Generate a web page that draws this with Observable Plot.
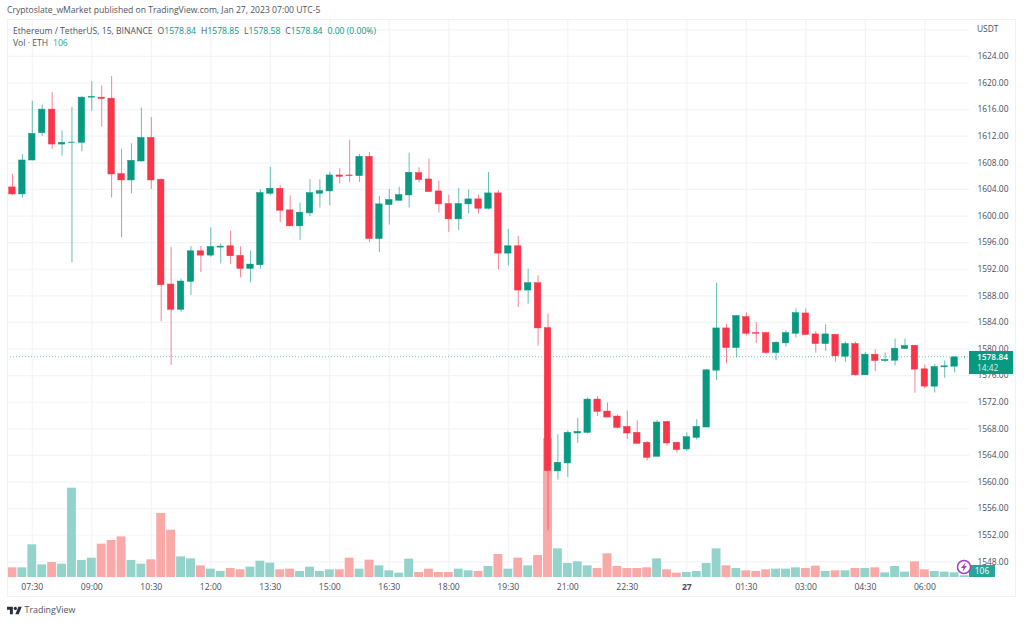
<!DOCTYPE html>
<html>
<head>
<meta charset="utf-8">
<script src="https://cdn.jsdelivr.net/npm/d3@7"></script>
<script src="https://cdn.jsdelivr.net/npm/@observablehq/plot@0.6"></script>
<style>
  html, body { margin: 0; padding: 0; background: #fff; overflow: hidden; }
  #page { position: relative; width: 1024px; height: 623px; font-family: "Open Sans", "Noto Sans", sans-serif; color: #4a4e5a; }
  #title { height: 19px; font-size: 8.6px; line-height: 21px; padding-left: 7px; white-space: nowrap; color: #50535e; }
  #frame { position: absolute; left: 7px; top: 19px; width: 1009px; height: 578px; border: 1px solid #eff1f6; box-sizing: border-box; pointer-events: none; }
  .ov { position: absolute; white-space: nowrap; }
  .hd { font-size: 8.6px; line-height: 12px; color: #50535e; }
  .hd b { font-weight: 400; color: #089981; }
  .sp { display: inline-block; width: 5px; }
  svg { display: block; }
</style>
</head>
<body>
<div id="page">
  <div id="title">Cryptoslate_wMarket published on TradingView.com, Jan 27, 2023 07:00 UTC-5</div>
  <div id="chart"></div>
  <div id="frame"></div>
  <div class="ov hd" style="left:13px;top:25px">Ethereum / TetherUS, 15, BINANCE<span class="sp"></span>O<b>1578.84</b><span class="sp"></span>H<b>1578.85</b><span class="sp"></span>L<b>1578.58</b><span class="sp"></span>C<b>1578.84</b><span class="sp"></span><b>0.00 (0.00%)</b></div>
  <div class="ov hd" style="left:13px;top:37px">Vol · ETH<span class="sp"></span><b style="color:#26a69a">106</b></div>
  <div class="ov" style="left:977px;top:23px;font-size:8.4px;line-height:12px;color:#4a4e5a">USDT</div>
  <div class="ov" style="left:969px;top:351px;width:44px;height:23px;background:#089981;color:#fff;font-size:8.4px;line-height:11px;text-align:left;box-sizing:border-box;padding:0 0 0 8px"><div style="font-weight:600">1578.84</div><div style="opacity:.85">14:42</div></div>
  <div class="ov" style="left:969px;top:565px;width:26px;height:12px;background:#26a69a;color:#fff;font-size:8.4px;line-height:12px;text-align:center">106</div>
  <svg class="ov" style="left:956px;top:559px" width="16" height="16" viewBox="0 0 16 16"><circle cx="8" cy="8" r="6.5" fill="#fff" stroke="#a53fc0" stroke-width="1.5"/><path d="M9.6 3.4 5 8.9h2.6L6.6 12.6l4.3-5.5H8.4z" fill="#a53fc0"/></svg>
  <svg class="ov" style="left:7px;top:606px" width="15" height="9" viewBox="0 4 36 18"><path d="M14 22H7V11H0V4h14v18zM28 22h-8l7.5-18h8L28 22z" fill="#2a2e39"/><circle cx="20" cy="8" r="4" fill="#2a2e39"/></svg>
  <div class="ov" style="left:24.5px;top:604px;font-size:8.9px;line-height:12px;color:#50535e">TradingView</div>
</div>
<script>
const startTime = Date.UTC(2023, 0, 26, 7, 0);
const barMinutes = 15;

const opens = [
  1604.3,1603.25,1608.35,1612.45,1616,1610.75,1611,1611,1617.8,1617.8,
  1617.65,1606.3,1605.35,1608.2,1611.75,1605.45,1589.7,1585.9,1590.1,1594.7,
  1594.05,1595.25,1595.45,1594,1592.05,1592.6,1603.35,1604.1,1600.85,1598.45,
  1600.4,1603.35,1603.7,1606.1,1606.1,1606,1608.9,1596.55,1601.65,1602.3,
  1603.1,1606.45,1605.5,1603.7,1601.8,1599.5,1601.75,1602.5,1601.1,1603.4,
  1594.35,1595.45,1588.8,1589.9,1583.15,1561.6,1562.8,1567.3,1567.4,1572.4,
  1570.6,1569.85,1568.3,1567.4,1565.9,1563.8,1569.05,1565.9,1564.9,1566.65,
  1568.2,1576.75,1583.1,1580.15,1584.8,1582.4,1582.4,1579.4,1580.85,1582.3,
  1585.35,1582.2,1580.75,1582.15,1578.85,1580.75,1576.05,1579.15,1578.2,1578.25,
  1580,1580.5,1576.95,1574.35,1577.25,1577.35,1578.84];

const closes = [
  1603.25,1608.35,1612.35,1616,1610.75,1611,1611.05,1617.8,1617.9,1617.6,
  1606.25,1605.35,1608.3,1611.75,1605.35,1589.6,1585.9,1590.15,1594.7,1594.05,
  1595.35,1595.4,1593.95,1592.05,1592.7,1603.45,1604.1,1600.8,1598.45,1600.5,
  1603.45,1603.75,1606.1,1605.9,1606,1608.9,1596.55,1601.75,1602.4,1603.15,
  1606.5,1605.4,1603.6,1601.75,1599.5,1601.8,1602.5,1601.1,1603.4,1594.35,
  1595.45,1588.8,1589.9,1583.1,1561.65,1562.9,1567.4,1567.55,1572.4,1570.55,
  1569.7,1568.15,1567.3,1565.75,1563.65,1568.95,1565.8,1564.8,1566.75,1568.3,
  1576.8,1583.1,1580.15,1584.95,1582.3,1582.3,1579.4,1580.95,1582.4,1585.4,
  1582.1,1580.75,1582.2,1578.9,1580.75,1576.05,1579.15,1578.2,1578.35,1580.05,
  1580.45,1576.9,1574.35,1577.3,1577.4,1578.75,1578.84];

const highs = [
  1606.25,1609.25,1617.25,1616.7,1618.55,1612.8,1616.35,1618,1620.2,1619.55,
  1620.95,1610.05,1610.85,1616.25,1614.8,1605.6,1595.3,1590.55,1595.4,1595.45,
  1598.2,1595.8,1597.75,1595.35,1594.75,1603.95,1607.3,1604.6,1603,1601.95,
  1605.45,1605.45,1606.6,1607.1,1611.4,1609.25,1609.55,1602.95,1604,1604.35,
  1609.45,1607.25,1608.55,1605.25,1603.15,1604.15,1603.9,1603.15,1606.55,1603.8,
  1598,1596.95,1592,1591,1585.25,1567.1,1567.7,1569.6,1572.65,1572.85,
  1571.9,1570.1,1570.65,1569.2,1566.1,1569.3,1569.05,1566,1567.4,1569.4,
  1576.9,1589.9,1583.75,1585.05,1585.45,1583.95,1582.5,1581.1,1582.75,1586.05,
  1586.05,1582.6,1583.65,1582.15,1581.05,1581.05,1579.5,1579.85,1579.4,1581.5,
  1581.5,1580.55,1577.6,1577.7,1578.2,1578.8,1578.85];

const lows = [
  1603.1,1602.7,1608.3,1611.95,1610,1609,1593,1609.65,1615.75,1613.35,
  1602.7,1596.7,1603.35,1608.15,1604,1584.1,1577.55,1585.55,1588.05,1591.5,
  1593.8,1592.8,1592.7,1590.7,1589.95,1592,1603.1,1599,1598.45,1596.3,
  1599.9,1601.2,1601.55,1604.85,1605,1605.05,1596,1594.5,1598.65,1602.3,
  1601.2,1605,1603.6,1600.45,1597.55,1597.8,1600.35,1600.3,1600.9,1591.9,
  1592.5,1586.25,1586.75,1580.45,1552.65,1560.3,1560.7,1565.8,1567.2,1569.85,
  1569.7,1568,1566.4,1565.75,1563.2,1563.8,1565.4,1564.35,1564.6,1566.3,
  1568.2,1575.25,1577.8,1578.7,1581.95,1580.85,1579.25,1578.25,1580.3,1581.65,
  1582.1,1579.4,1579.65,1578,1578,1575.95,1576.05,1576.6,1577.95,1577.45,
  1580,1573.35,1574.05,1573.4,1575.6,1576.4,1578.58];

const volumes = [
  580,580,1960,760,900,800,5360,1020,1160,2000,
  2220,2440,1020,800,1060,3840,2840,1240,1120,700,
  500,360,540,460,620,980,860,460,500,360,
  620,360,460,460,1160,500,1040,700,400,260,
  1100,300,500,300,300,500,400,360,660,1380,
  500,1160,700,1320,8340,1720,840,940,700,540,
  1420,660,540,540,580,1120,460,260,300,360,
  840,1720,700,540,400,360,460,500,500,580,
  540,680,360,400,400,540,540,580,280,660,
  320,940,460,360,320,280,106];

const priceTicks = d3.range(1548, 1625, 4);
const gridPrices = d3.range(1548, 1629, 4);
const timeTickBars = d3.range(2, 93, 6);
const midnightBar = 68;
const lastPrice = 1578.84;
const priceDomain = [1545.65, 1629.4];
const volumePerPriceUnit = 399;   // volume pane shares the price scale as an overlay

const UP = "#089981", DOWN = "#f7364a", UPV = "#93d3cb", DOWNV = "#f8a9a8", GRID = "#f3f4f8";
const timeAt = i => new Date(startTime + i * barMinutes * 60000);
const shift = (d, m) => new Date(+d + m * 60000);

const bars = opens.map((o, i) => ({
  t: timeAt(i), open: o, close: closes[i], high: highs[i], low: lows[i], vol: volumes[i],
  up: closes[i] >= o
}));

const tickTimes = timeTickBars.map(timeAt);
const hourTicks = tickTimes.filter(d => +d !== +timeAt(midnightBar));
const dayTicks = [timeAt(midnightBar)];

const plot = Plot.plot({
  width: 1024, height: 604,
  marginLeft: 7, marginRight: 54.5, marginTop: 1, marginBottom: 46,
  style: { background: "transparent", fontFamily: '"Open Sans","Noto Sans",sans-serif', fontSize: "8.4px", color: "#4a4e5a" },
  x: { type: "utc", domain: [shift(timeAt(0), -7.5), shift(timeAt(96), 8.3)] },
  y: { domain: priceDomain },
  color: { type: "identity" },
  marks: [
    Plot.gridX(tickTimes, { stroke: GRID, strokeOpacity: 1, strokeWidth: 1.2 }),
    Plot.gridY(gridPrices, { stroke: GRID, strokeOpacity: 1, strokeWidth: 1.2 }),
    Plot.axisX(hourTicks, { anchor: "bottom", tickSize: 0, tickPadding: 6, label: null, tickFormat: d3.utcFormat("%H:%M"), fontSize: 8.6 }),
    Plot.axisX(dayTicks, { anchor: "bottom", tickSize: 0, tickPadding: 6, label: null, tickFormat: d3.utcFormat("%-d"), fontWeight: "bold", fontSize: 8.6 }),
    Plot.axisY(priceTicks, { anchor: "right", tickSize: 0, tickPadding: 7.5, label: null, tickFormat: d => d.toFixed(2), fontSize: 8.4 }),
    Plot.rect(bars, {
      x1: d => shift(d.t, -6.7), x2: d => shift(d.t, 6.7),
      y1: priceDomain[0], y2: d => priceDomain[0] + d.vol / volumePerPriceUnit,
      fill: d => d.up ? UPV : DOWNV
    }),
    Plot.ruleY([lastPrice], { stroke: UP, strokeOpacity: 0.55, strokeDasharray: "1 2" }),
    Plot.ruleX(bars, { x: "t", y1: "low", y2: "high", stroke: d => d.up ? UP : DOWN, strokeOpacity: 0.62 }),
    Plot.rect(bars, {
      x1: d => shift(d.t, -4.9), x2: d => shift(d.t, 4.9),
      y1: "open", y2: "close",
      fill: d => d.up ? UP : DOWN, stroke: d => d.up ? UP : DOWN, strokeWidth: 0.5
    })
  ]
});
document.getElementById("chart").appendChild(plot);
</script>
</body>
</html>
